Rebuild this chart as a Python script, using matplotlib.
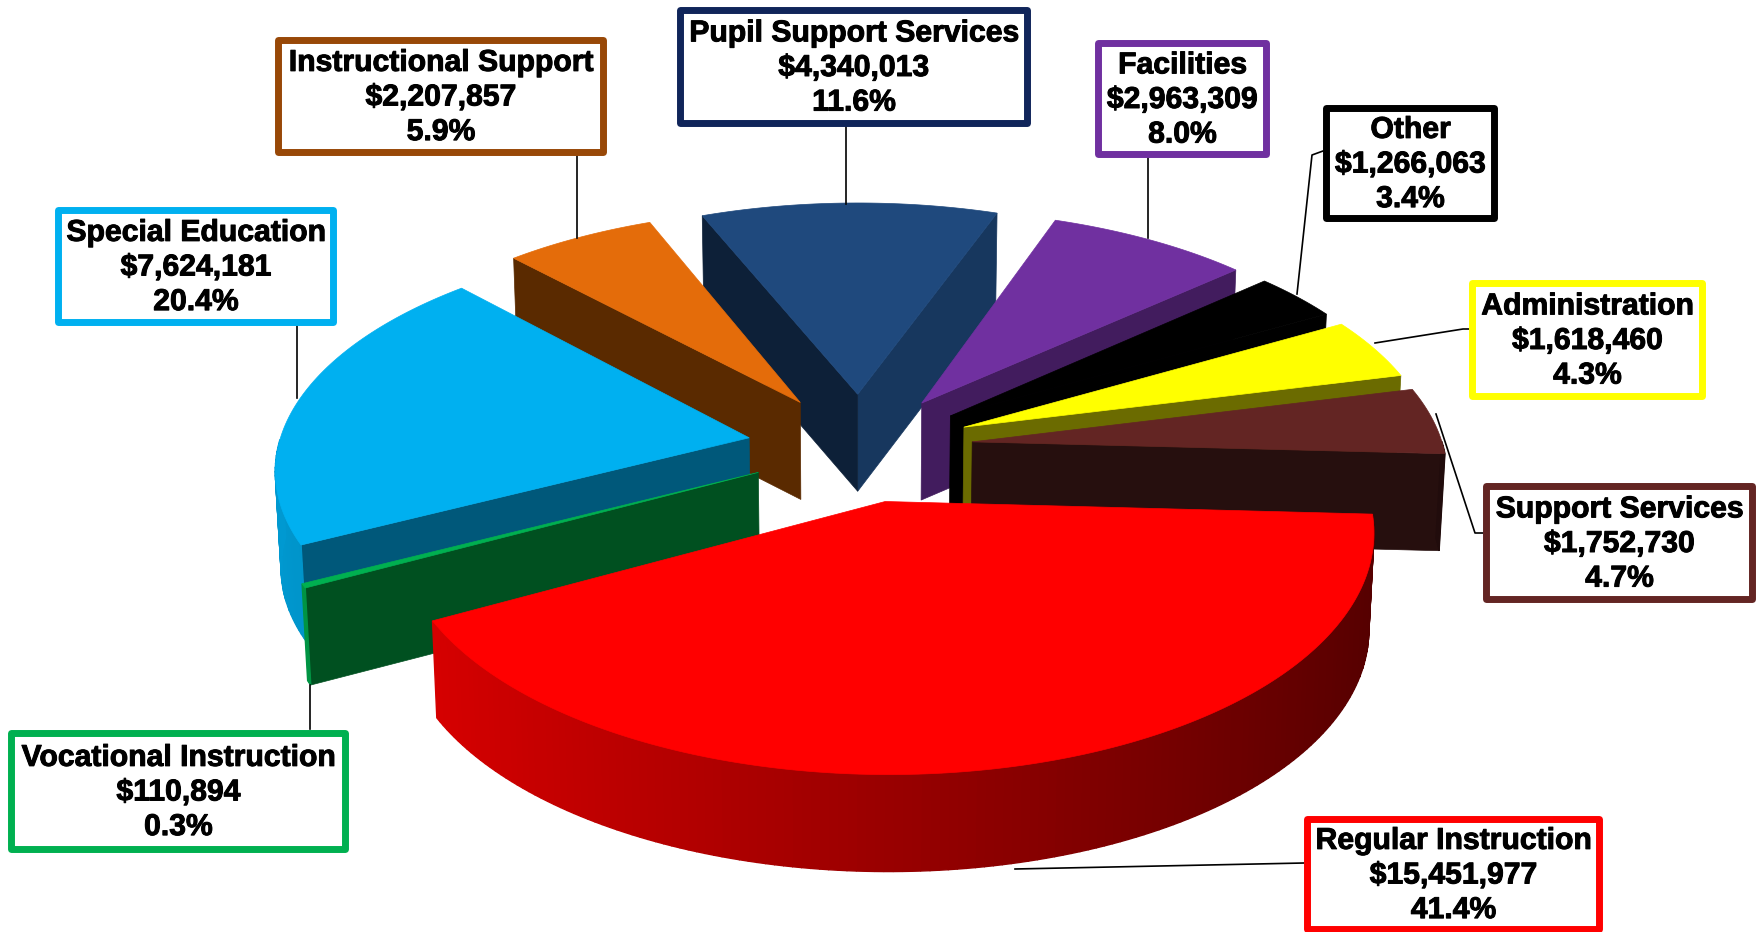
import numpy as np
import matplotlib
matplotlib.use("Agg")
import matplotlib.pyplot as plt
import matplotlib.patheffects as pe
from matplotlib.patches import Polygon, Rectangle

# slices, clockwise starting from the right edge of the red one
names = ["Regular Instruction", "Vocational Instruction", "Special Education",
         "Instructional Support", "Pupil Support Services", "Facilities",
         "Other", "Administration", "Support Services"]
amounts = [15451977, 110894, 7624181, 2207857, 4340013, 2963309, 1266063, 1618460, 1752730]
percents = [41.4, 0.3, 20.4, 5.9, 11.6, 8.0, 3.4, 4.3, 4.7]

top_colors = ["#ff0000", "#00b050", "#00b0f0", "#e46c0a", "#1f497d", "#7030a0", "#000000", "#ffff00", "#632523"]
border_colors = ["#ff0000", "#00b050", "#00b0f0", "#984807", "#10255a", "#7030a0", "#000000", "#ffff00", "#632523"]
start_cut = ["#7a0000", "#005020", "#00587a", "#5a2a00", "#0d2038", "#421c5e", "#000000", "#6b6b00", "#260f0e"]
end_cut = ["#a00000", "#005020", "#00587a", "#5a2a00", "#17375e", "#421c5e", "#000000", "#6b6b00", "#260f0e"]

# box layout in pixels: left, top, right, bottom
boxes = [(1304, 815, 1603, 932), (8, 729, 349, 852), (55, 206, 337, 325),
         (275, 36, 607, 155), (677, 6, 1031, 126), (1095, 39, 1270, 157),
         (1323, 104, 1498, 221), (1469, 279, 1706, 399), (1483, 482, 1756, 602)]
leaders = [[(1304, 863), (1015, 869)], [(310, 729), (310, 685)], [(297, 325), (297, 398)],
           [(577, 155), (577, 238)], [(846, 126), (846, 204)], [(1148, 157), (1148, 238)],
           [(1323, 151), (1312, 155), (1297, 294)], [(1469, 329), (1463, 329), (1375, 343)],
           [(1483, 533), (1475, 533), (1436, 414)]]

# pie geometry
cx, cy = 860, 447
radius = 471
tilt = 0.48
persp = 0.12
depth = 97
explode = 0.24
start_angle = -3.0


def project(x, y, down=False):
    s = 1.0 / (1.0 + persp * y)
    px, py = cx + radius * x * s, cy - radius * y * tilt * s
    if down:
        return cx + (px - cx) * 0.99, py + depth
    return px, py


def shade(color, f):
    rgb = np.array(matplotlib.colors.to_rgb(color))
    return tuple(rgb * f)


fig = plt.figure(figsize=(17.58, 9.32), dpi=100)
ax = fig.add_axes([0, 0, 1, 1])
ax.set_xlim(0, 1758)
ax.set_ylim(932, 0)
ax.axis("off")

# angles come from the amounts
fractions = np.array(amounts) / sum(amounts)
ends = start_angle - 360 * np.cumsum(fractions)
starts = np.concatenate(([start_angle], ends[:-1]))
mids = (starts + ends) / 2
order = np.argsort(-np.sin(np.radians(mids)))

for layer, i in enumerate(order):
    z = 2 + layer * 0.1
    a0, a1 = np.radians(starts[i]), np.radians(ends[i])
    mid = np.radians(mids[i])
    ox, oy = explode * np.cos(mid), explode * np.sin(mid)
    arc = np.linspace(a0, a1, max(int(abs(a1 - a0) * 60), 3))
    rim_x = ox + np.cos(arc)
    rim_y = oy + np.sin(arc)

    apex_top = project(ox, oy)
    apex_bot = project(ox, oy, True)
    rim_top = [project(x, y) for x, y in zip(rim_x, rim_y)]
    rim_bot = [project(x, y, True) for x, y in zip(rim_x, rim_y)]

    # cut faces, only the ones turned towards the viewer
    if np.cos(a1) > 0:
        ax.add_patch(Polygon([apex_top, rim_top[-1], rim_bot[-1], apex_bot],
                             fc=end_cut[i], ec=end_cut[i], lw=0.5, zorder=z))
    if np.cos(a0) < 0:
        ax.add_patch(Polygon([apex_top, rim_top[0], rim_bot[0], apex_bot],
                             fc=start_cut[i], ec=start_cut[i], lw=0.5, zorder=z))
    # outer wall, shaded strip by strip, front part only
    for k in range(len(arc) - 1):
        a = (arc[k] + arc[k + 1]) / 2
        if np.sin(a) > 0:
            continue
        col = shade(top_colors[i], 0.6 - 0.27 * np.cos(a))
        ax.add_patch(Polygon([rim_top[k], rim_top[k + 1], rim_bot[k + 1], rim_bot[k]],
                             fc=col, ec=col, lw=1, zorder=z + 0.01))
    ax.add_patch(Polygon([apex_top] + rim_top, fc=top_colors[i], ec=top_colors[i],
                         lw=0.5, zorder=z + 0.02))

for i in range(len(names)):
    xs, ys = zip(*leaders[i])
    ax.plot(xs, ys, color="black", lw=1.2, zorder=5)
    l, t, r, b = boxes[i]
    ax.add_patch(Rectangle((l + 3.5, t + 3.5), r - l - 7, b - t - 7, fc="white",
                           ec=border_colors[i], lw=5, joinstyle="round", zorder=6))
    label = "%s\n$%s\n%.1f%%" % (names[i], format(amounts[i], ","), percents[i])
    ax.text((l + r) / 2, (t + b) / 2 + 2, label, ha="center", va="center", ma="center",
            family="Liberation Sans", weight="bold", fontsize=21.7, linespacing=1.3,
            color="black", zorder=7,
            path_effects=[pe.withStroke(linewidth=0.7, foreground="black")])

fig.savefig("out.png", dpi=100, facecolor="white")
